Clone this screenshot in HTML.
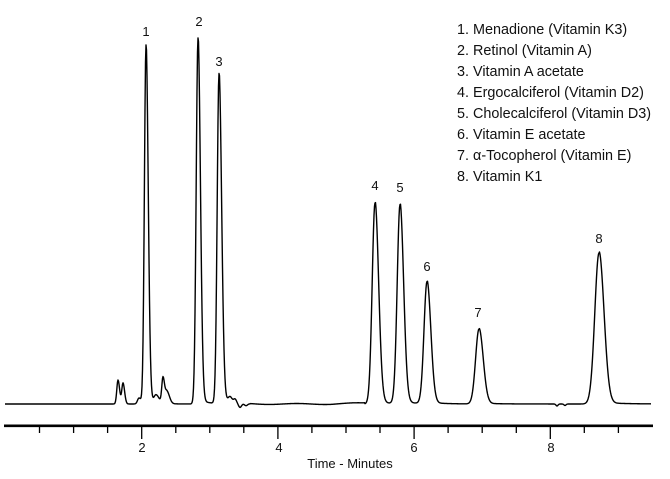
<!DOCTYPE html>
<html><head><meta charset="utf-8">
<style>
html,body{margin:0;padding:0;background:#fff;}
body{width:670px;height:474px;overflow:hidden;}
svg text{font-family:"Liberation Sans",sans-serif;fill:#111;}
</style></head>
<body>
<svg id="s" width="670" height="474" viewBox="0 0 670 474" xmlns="http://www.w3.org/2000/svg">
<line x1="4" y1="425.8" x2="653" y2="425.8" stroke="#000" stroke-width="2.6"/>
<g id="ticks" stroke="#000" stroke-width="1.3"></g>
<path id="trace" d="" fill="none" stroke="#000" stroke-width="1.4" stroke-linejoin="round"/>
<g font-size="13" text-anchor="middle">
<text x="142" y="452">2</text>
<text x="279" y="452">4</text>
<text x="414" y="452">6</text>
<text x="551" y="452">8</text>
<text x="350" y="468">Time - Minutes</text>
<text x="146" y="36">1</text>
<text x="199" y="26">2</text>
<text x="219" y="66">3</text>
<text x="375" y="190">4</text>
<text x="400" y="192">5</text>
<text x="427" y="271">6</text>
<text x="478" y="317">7</text>
<text x="599" y="243">8</text>
</g>
<g font-size="14.4">
<text x="457" y="34">1. Menadione (Vitamin K3)</text>
<text x="457" y="55">2. Retinol (Vitamin A)</text>
<text x="457" y="76">3. Vitamin A acetate</text>
<text x="457" y="97">4. Ergocalciferol (Vitamin D2)</text>
<text x="457" y="118">5. Cholecalciferol (Vitamin D3)</text>
<text x="457" y="139">6. Vitamin E acetate</text>
<text x="457" y="160">7. α-Tocopherol (Vitamin E)</text>
<text x="457" y="181">8. Vitamin K1</text>
</g>
</svg>
<script>
(function(){
var g=document.getElementById('ticks'),h='';
for(var i=1;i<=18;i++){var t=i*0.5,x=5.5+68.1*t;var major=(i%4==0);
h+='<line x1="'+x.toFixed(1)+'" y1="426" x2="'+x.toFixed(1)+'" y2="'+(major?439:433)+'"/>';}
g.innerHTML=h;
var base=404;
var P=[[146,359,1.6,2.2],[198,366,1.8,2.4],[219,330,1.8,2.6],[375,201,2.8,3.6],[400,199,2.8,3.6],[427,122,3,3.8],[479,75,3.4,4.2],[599,151,4.2,5],
[118,24,1.2,1.6],[123,21,1.2,1.6],[139,6,1.5,2],[163,26,1.2,1.6],[167,12,1.5,2.5],[156,8,2,3],[235,4,1.5,1.5],[230,6,2,2]];
var D=[[240,-4,1.5],[246,-2,1.5],[557,-2,1],[565,-1.5,1]];
var d='';
for(var x=5;x<=651;x+=0.5){
 var y=0;
 for(var j=0;j<P.length;j++){var p=P[j],s=(x<p[0]?p[2]:p[3]);var u=(x-p[0])/s;y+=p[1]*Math.exp(-0.5*u*u);
   if(x>p[0]&&j<8){y+=p[1]*0.012*Math.exp(-(x-p[0])/(s*4));}}
 for(var k=0;k<D.length;k++){var q=D[k],u2=(x-q[0])/q[2];y+=q[1]*Math.exp(-0.5*u2*u2);}
 if(x>250&&x<365){y+=0.5*Math.sin(x/9)+Math.max(0,(x-330)/35);}
 d+=(x==5?'M':'L')+x+','+(base-y).toFixed(2);
}
document.getElementById('trace').setAttribute('d',d);
})();
</script>
</body></html>
